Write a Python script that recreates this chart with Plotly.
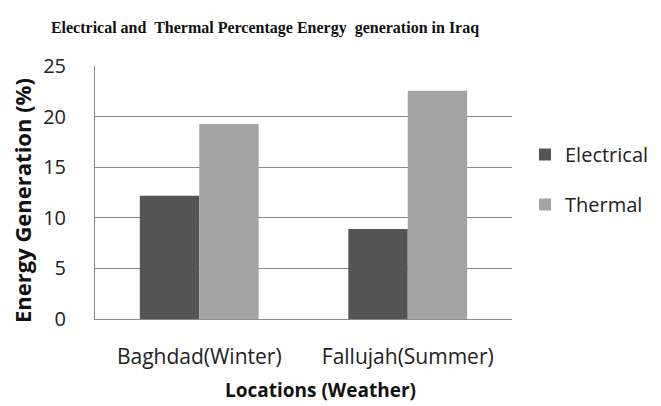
import plotly.graph_objects as go

categories = ["Baghdad(Winter)", "Fallujah(Summer)"]
electrical = [12.2, 8.9]
thermal = [19.3, 22.6]
y_ticks = [0, 5, 10, 15, 20, 25]

FONT = "Open Sans"
W, H = 653, 398  # page body has an 8px margin
L, R, T, B = 87, 149, 58, 87
PW, PH = W - L - R, H - T - B

fig = go.Figure()
fig.add_trace(go.Bar(x=categories, y=electrical, name="Electrical", legendgroup="e",
                     marker=dict(color="#545454", line=dict(width=0))))
fig.add_trace(go.Bar(x=categories, y=thermal, name="Thermal", legendgroup="t",
                     marker=dict(color="#a3a3a3", line=dict(width=0))))

fig.update_layout(
    width=W, height=H,
    margin=dict(l=L, r=R, t=T, b=B),
    paper_bgcolor="white", plot_bgcolor="white",
    barmode="group", bargap=0.43, bargroupgap=0,
    title=dict(text="<b>Electrical and  Thermal Percentage Energy  generation in Iraq</b>",
               x=257/W, xanchor="center", y=1-19/H, yanchor="middle",
               font=dict(family="Liberation Serif", size=16, color="#111111")),
    font=dict(family=FONT, color="#222222"),
    legend=dict(xref="container", yref="container", x=517/W, y=1-127/H, yanchor="top", xanchor="left",
                font=dict(family=FONT, size=20, color="#222222"),
                tracegroupgap=21, traceorder="grouped", bgcolor="rgba(0,0,0,0)"),
    showlegend=True,
    annotations=[
        dict(text="<b>Locations (Weather)</b>", xref="paper", yref="paper",
             x=(312 - L) / PW, y=0, xanchor="center", yanchor="middle", yshift=-71,
             showarrow=False, font=dict(size=19, family=FONT, color="#111111")),
        dict(text="<b>Energy Generation (%)</b>", xref="paper", yref="paper",
             x=0, xshift=14 - L, y=1 - (193 - T) / PH, xanchor="center", yanchor="middle",
             textangle=-90, showarrow=False, font=dict(size=22, family=FONT, color="#111111")),
    ],
)

fig.update_yaxes(range=[0, 25.04], tickvals=y_ticks, showgrid=True, gridcolor="#8a8a8a", gridwidth=1,
                 showline=True, linecolor="#8a8a8a", linewidth=1, zeroline=False, automargin=False,
                 tickfont=dict(size=20, family=FONT, color="#222222"), ticklabelstandoff=24)
fig.update_xaxes(showline=True, linecolor="#8a8a8a", linewidth=1, automargin=False,
                 tickfont=dict(size=21, family=FONT, color="#222222"), ticklabelstandoff=19)

fig.write_html("out.html")
